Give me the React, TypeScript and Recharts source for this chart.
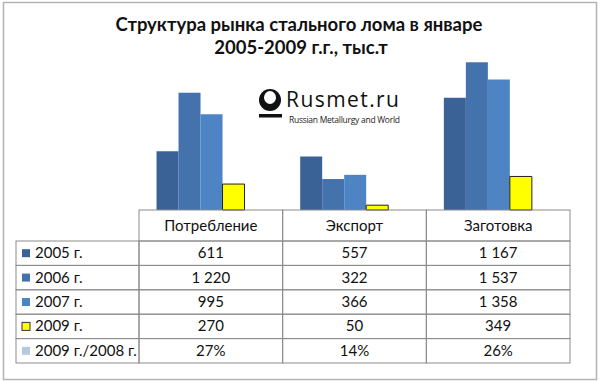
import React from 'react';
import { BarChart, Bar, XAxis, YAxis } from 'recharts';

// categories and series (тыс.т)
const categories = ['Потребление', 'Экспорт', 'Заготовка'];
const values2005 = [611, 557, 1167];
const values2006 = [1220, 322, 1537];
const values2007 = [995, 366, 1358];
const values2009 = [270, 50, 349];
const ratio2009to2008 = [27, 14, 26]; // percent

const seriesNames = ['2005 г.', '2006 г.', '2007 г.', '2009 г.', '2009 г./2008 г.'];
const seriesColors = ['#3A6296', '#4472AC', '#4F84C4', '#FFFF00', '#B9C8E2'];

const W = 600;
const H = 381;
const M_LEFT = 139;
const M_RIGHT = 30;
const M_TOP = 37;
const PLOT_BOTTOM = 210;
const AXIS_H = 153;
const COL_W = (W - M_LEFT - M_RIGHT) / categories.length;
const HEADER_H = 31;
const ROW_H = 24.4;
const LEGEND_LEFT = 16;
const GRID = '#8c8c8c';
const FONT = 'Lato, "Open Sans", sans-serif';

const data = categories.map((name, i) => ({
  name,
  y2005: values2005[i],
  y2006: values2006[i],
  y2007: values2007[i],
  y2009: values2009[i],
  ratio: ratio2009to2008[i] / 100,
}));

const fmt = (n: number) =>
  n >= 1000 ? `${Math.floor(n / 1000)} ${String(n % 1000).padStart(3, '0')}` : String(n);

function tableRows(i: number) {
  return [
    fmt(values2005[i]),
    fmt(values2006[i]),
    fmt(values2007[i]),
    fmt(values2009[i]),
    `${ratio2009to2008[i]}%`,
  ];
}

function TableColumn(props: any) {
  const { x, y, payload } = props;
  const i = categories.indexOf(payload.value);
  const left = x - COL_W / 2;
  const rows = tableRows(i);
  return (
    <g>
      <rect x={left} y={y} width={COL_W} height={HEADER_H} fill="none" stroke={GRID} />
      <text x={x} y={y + HEADER_H / 2 + 5} textAnchor="middle" fontSize={15} fontFamily={FONT} fill="#111">
        {payload.value}
      </text>
      {rows.map((r, k) => (
        <g key={k}>
          <rect x={left} y={y + HEADER_H + k * ROW_H} width={COL_W} height={ROW_H} fill="none" stroke={GRID} />
          <text
            x={x}
            y={y + HEADER_H + k * ROW_H + ROW_H / 2 + 5}
            textAnchor="middle"
            fontSize={15}
            fontFamily={FONT}
            fill="#111"
          >
            {r}
          </text>
        </g>
      ))}
      {i === 0 &&
        seriesNames.map((s, k) => {
          const ry = y + HEADER_H + k * ROW_H;
          return (
            <g key={'l' + k}>
              <rect x={LEGEND_LEFT} y={ry} width={left - LEGEND_LEFT} height={ROW_H} fill="none" stroke={GRID} />
              <rect
                x={22}
                y={ry + ROW_H / 2 - 4}
                width={8}
                height={8}
                fill={seriesColors[k]}
                stroke={k === 3 ? '#333' : 'none'}
              />
              <text x={35} y={ry + ROW_H / 2 + 5} fontSize={15} fontFamily={FONT} fill="#111">
                {s}
              </text>
            </g>
          );
        })}
    </g>
  );
}

export default function App() {
  return (
    <div style={{ position: 'absolute', left: 0, top: 0, width: W, height: H, background: '#fff' }}>
      <svg width={W} height={H} style={{ position: 'absolute', left: 0, top: 0 }}>
        <rect x={3.5} y={2.5} width={593} height={377} fill="#fff" stroke="#b3b3b3" strokeWidth={1.5} />
        <text x={299} y={31} textAnchor="middle" fontSize={18.5} fontWeight="bold" fontFamily={FONT} fill="#111">
          Структура рынка стального лома в январе
        </text>
        <text x={301} y={54} textAnchor="middle" fontSize={18.5} fontWeight="bold" fontFamily={FONT} fill="#111">
          2005-2009 г.г., тыс.т
        </text>
        {/* Rusmet logo */}
        <circle cx={270} cy={100} r={11} fill="#111" />
        <ellipse cx={270} cy={97.5} rx={6} ry={6.5} fill="#fff" />
        <rect x={259} y={114} width={23} height={3.5} fill="#111" />
        <text x={286} y={107} fontSize={21} fontFamily={'"Open Sans", sans-serif'} fill="#111" textLength={113}>
          Rusmet.ru
        </text>
        <text x={289} y={122.5} fontSize={8.5} fontFamily={'"Open Sans", sans-serif'} fill="#222" textLength={111}>
          Russian Metallurgy and World
        </text>
      </svg>
      <div style={{ position: 'absolute', left: 0, top: 0 }}>
        <BarChart
          width={W}
          height={H}
          data={data}
          margin={{ top: M_TOP, right: M_RIGHT, left: M_LEFT, bottom: H - PLOT_BOTTOM - AXIS_H }}
          barCategoryGap="12.2%"
          barGap={0}
        >
          <XAxis
            dataKey="name"
            height={AXIS_H}
            axisLine={false}
            tickLine={false}
            tickSize={0}
            tickMargin={0}
            interval={0}
            tick={<TableColumn />}
          />
          <YAxis hide width={0} domain={[0, 1800]} />
          <Bar dataKey="y2005" fill={seriesColors[0]} isAnimationActive={false} />
          <Bar dataKey="y2006" fill={seriesColors[1]} isAnimationActive={false} />
          <Bar dataKey="y2007" fill={seriesColors[2]} isAnimationActive={false} />
          <Bar dataKey="y2009" fill={seriesColors[3]} stroke="#222" strokeWidth={1} isAnimationActive={false} />
          <Bar dataKey="ratio" fill={seriesColors[4]} isAnimationActive={false} />
        </BarChart>
      </div>
    </div>
  );
}
